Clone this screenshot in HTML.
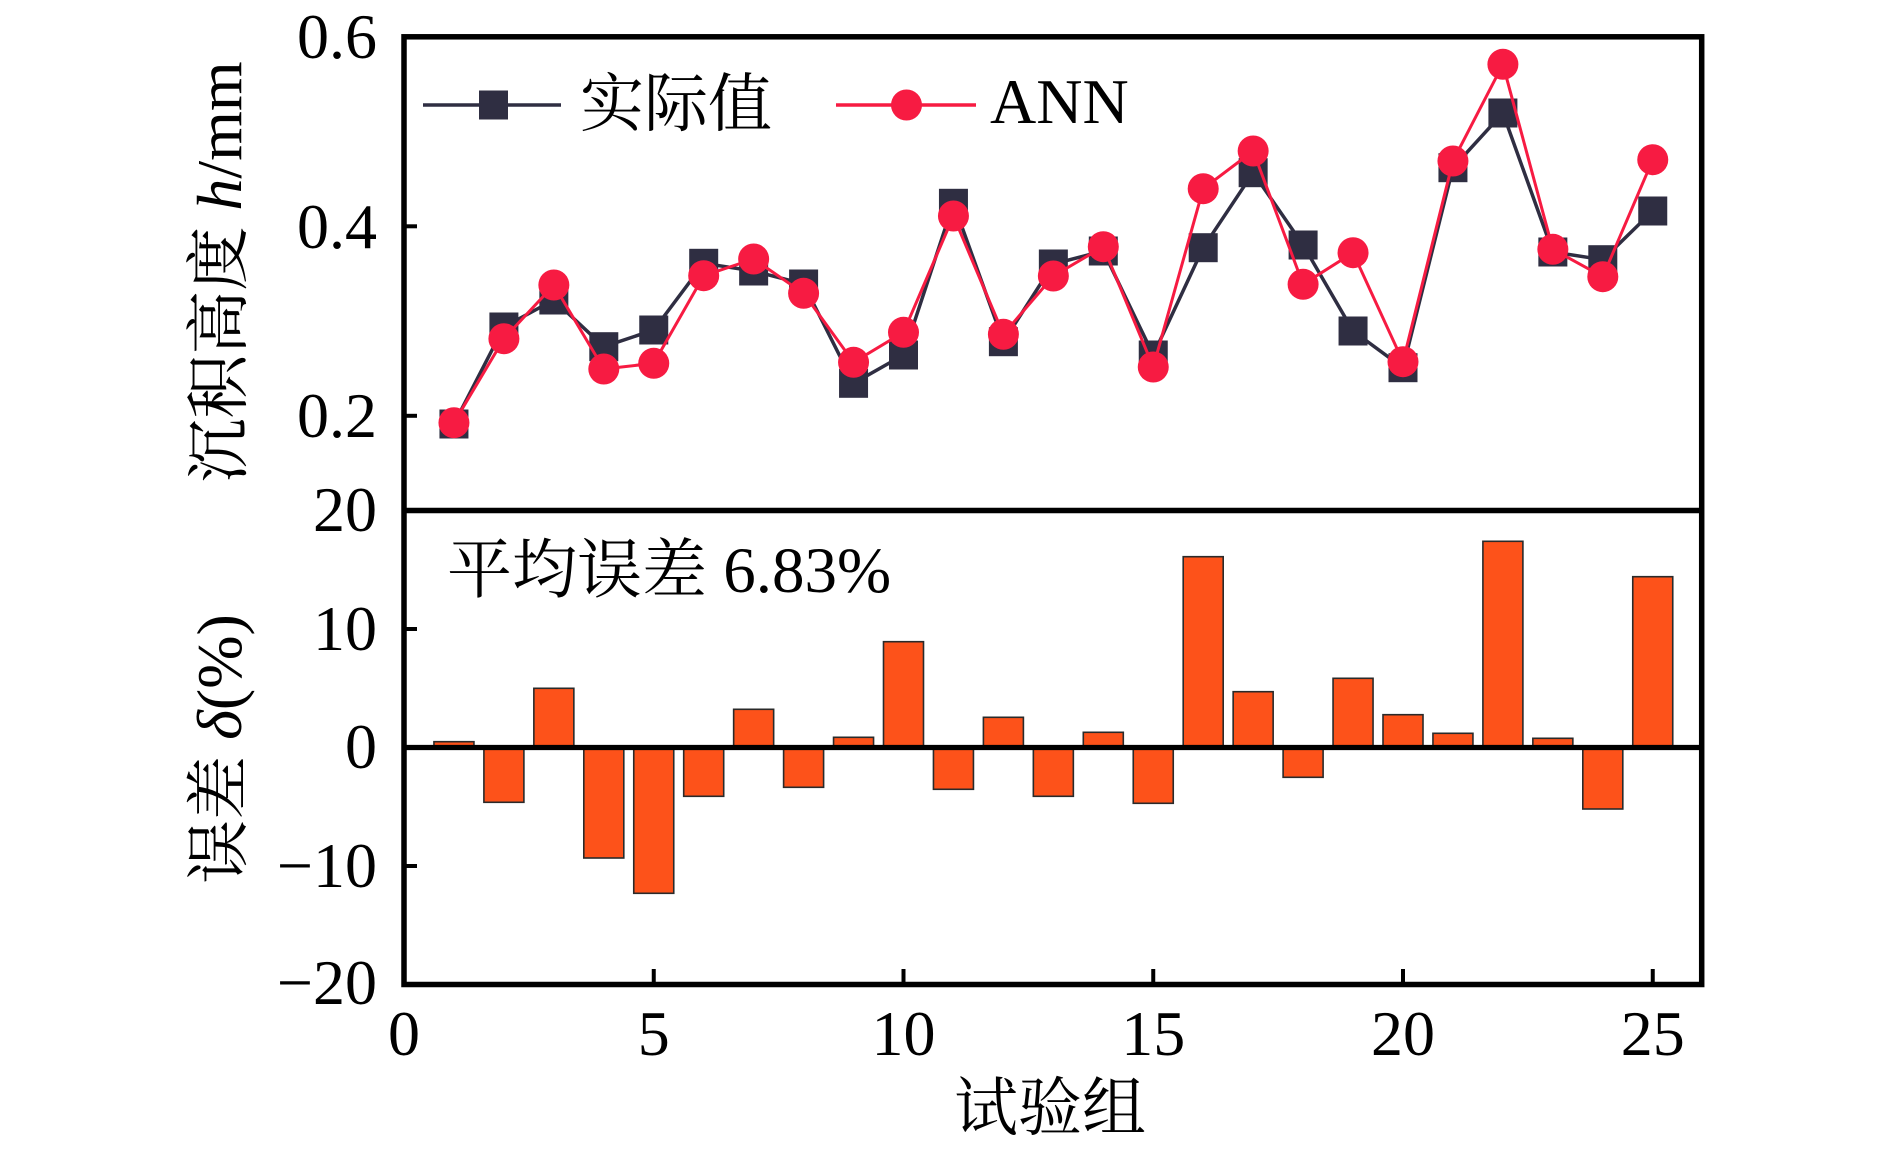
<!DOCTYPE html>
<html><head><meta charset="utf-8"><style>
html,body{margin:0;padding:0;background:#fff;}
svg{display:block;}
text{font-family:"Liberation Serif","Noto Serif CJK SC",serif;fill:#000;}
</style></head><body>
<svg width="1890" height="1150" viewBox="0 0 1890 1150" xmlns="http://www.w3.org/2000/svg">
<rect width="1890" height="1150" fill="#fff"/>

<!-- bars -->
<g fill="#fd521a" stroke="#2a2a2a" stroke-width="1.6">
<rect x="433.95" y="741.7" width="40" height="5.8"/>
<rect x="483.9" y="747.5" width="40" height="54.8"/>
<rect x="533.85" y="688.3" width="40" height="59.2"/>
<rect x="583.8" y="747.5" width="40" height="110.5"/>
<rect x="633.75" y="747.5" width="40" height="145.8"/>
<rect x="683.7" y="747.5" width="40" height="48.8"/>
<rect x="733.65" y="709.3" width="40" height="38.2"/>
<rect x="783.6" y="747.5" width="40" height="39.8"/>
<rect x="833.55" y="737.3" width="40" height="10.2"/>
<rect x="883.5" y="641.7" width="40" height="105.8"/>
<rect x="933.45" y="747.5" width="40" height="41.8"/>
<rect x="983.4" y="717.3" width="40" height="30.2"/>
<rect x="1033.35" y="747.5" width="40" height="48.8"/>
<rect x="1083.3" y="732.3" width="40" height="15.2"/>
<rect x="1133.25" y="747.5" width="40" height="55.8"/>
<rect x="1183.2" y="556.7" width="40" height="190.8"/>
<rect x="1233.15" y="691.7" width="40" height="55.8"/>
<rect x="1283.1" y="747.5" width="40" height="29.8"/>
<rect x="1333.05" y="678.3" width="40" height="69.2"/>
<rect x="1383.0" y="714.7" width="40" height="32.8"/>
<rect x="1432.95" y="733.3" width="40" height="14.2"/>
<rect x="1482.9" y="541.3" width="40" height="206.2"/>
<rect x="1532.85" y="738.3" width="40" height="9.2"/>
<rect x="1582.8" y="747.5" width="40" height="61.5"/>
<rect x="1632.75" y="576.7" width="40" height="170.8"/>
</g>
<line x1="404" y1="747.5" x2="1702" y2="747.5" stroke="#000" stroke-width="5.3"/>

<!-- actual line -->
<polyline fill="none" stroke="#2f2e42" stroke-width="3.5" stroke-linejoin="round" points="453.95,424 503.9,327 553.85,300 603.8,346.7 653.75,330 703.7,263.3 753.65,271 803.6,284 853.55,383.3 903.5,355 953.45,203.3 1003.4,341.7 1053.35,264 1103.3,251 1153.25,355 1203.2,247.7 1253.15,172.7 1303.1,245 1353.05,331 1403.0,367.7 1452.95,167.7 1502.9,113 1552.85,252 1602.8,259.7 1652.75,211"/>
<g fill="#2f2e42">
<rect x="439.45" y="409.5" width="29" height="29"/>
<rect x="489.4" y="312.5" width="29" height="29"/>
<rect x="539.35" y="285.5" width="29" height="29"/>
<rect x="589.3" y="332.2" width="29" height="29"/>
<rect x="639.25" y="315.5" width="29" height="29"/>
<rect x="689.2" y="248.8" width="29" height="29"/>
<rect x="739.15" y="256.5" width="29" height="29"/>
<rect x="789.1" y="269.5" width="29" height="29"/>
<rect x="839.05" y="368.8" width="29" height="29"/>
<rect x="889.0" y="340.5" width="29" height="29"/>
<rect x="938.95" y="188.8" width="29" height="29"/>
<rect x="988.9" y="327.2" width="29" height="29"/>
<rect x="1038.85" y="249.5" width="29" height="29"/>
<rect x="1088.8" y="236.5" width="29" height="29"/>
<rect x="1138.75" y="340.5" width="29" height="29"/>
<rect x="1188.7" y="233.2" width="29" height="29"/>
<rect x="1238.65" y="158.2" width="29" height="29"/>
<rect x="1288.6" y="230.5" width="29" height="29"/>
<rect x="1338.55" y="316.5" width="29" height="29"/>
<rect x="1388.5" y="353.2" width="29" height="29"/>
<rect x="1438.45" y="153.2" width="29" height="29"/>
<rect x="1488.4" y="98.5" width="29" height="29"/>
<rect x="1538.35" y="237.5" width="29" height="29"/>
<rect x="1588.3" y="245.2" width="29" height="29"/>
<rect x="1638.25" y="196.5" width="29" height="29"/>
</g>

<!-- ANN line -->
<polyline fill="none" stroke="#f71b42" stroke-width="3" stroke-linejoin="round" points="453.95,422.7 503.9,338.7 553.85,285 603.8,369 653.75,363.3 703.7,275.7 753.65,259 803.6,293.3 853.55,362.3 903.5,332.3 953.45,216 1003.4,334.3 1053.35,276 1103.3,246.7 1153.25,367 1203.2,188.7 1253.15,151 1303.1,284.3 1353.05,252.7 1403.0,361.7 1452.95,161 1502.9,64.3 1552.85,249.3 1602.8,276.7 1652.75,159.7"/>
<g fill="#f71b42">
<circle cx="453.95" cy="422.7" r="15.5"/>
<circle cx="503.9" cy="338.7" r="15.5"/>
<circle cx="553.85" cy="285" r="15.5"/>
<circle cx="603.8" cy="369" r="15.5"/>
<circle cx="653.75" cy="363.3" r="15.5"/>
<circle cx="703.7" cy="275.7" r="15.5"/>
<circle cx="753.65" cy="259" r="15.5"/>
<circle cx="803.6" cy="293.3" r="15.5"/>
<circle cx="853.55" cy="362.3" r="15.5"/>
<circle cx="903.5" cy="332.3" r="15.5"/>
<circle cx="953.45" cy="216" r="15.5"/>
<circle cx="1003.4" cy="334.3" r="15.5"/>
<circle cx="1053.35" cy="276" r="15.5"/>
<circle cx="1103.3" cy="246.7" r="15.5"/>
<circle cx="1153.25" cy="367" r="15.5"/>
<circle cx="1203.2" cy="188.7" r="15.5"/>
<circle cx="1253.15" cy="151" r="15.5"/>
<circle cx="1303.1" cy="284.3" r="15.5"/>
<circle cx="1353.05" cy="252.7" r="15.5"/>
<circle cx="1403.0" cy="361.7" r="15.5"/>
<circle cx="1452.95" cy="161" r="15.5"/>
<circle cx="1502.9" cy="64.3" r="15.5"/>
<circle cx="1552.85" cy="249.3" r="15.5"/>
<circle cx="1602.8" cy="276.7" r="15.5"/>
<circle cx="1652.75" cy="159.7" r="15.5"/>
</g>

<!-- legend -->
<line x1="423" y1="105" x2="561" y2="105" stroke="#2f2e42" stroke-width="3.5"/>
<rect x="479" y="90.5" width="29" height="29" fill="#2f2e42"/>
<text x="580" y="126" font-size="64">实际值</text>
<line x1="836" y1="105" x2="976" y2="105" stroke="#f71b42" stroke-width="3.5"/>
<circle cx="906.5" cy="105" r="15.5" fill="#f71b42"/>
<text x="990" y="123" font-size="64">ANN</text>

<text x="447" y="592" font-size="65">平均误差 6.83%</text>

<!-- frame & divider -->
<g stroke="#000" stroke-width="5.5" fill="none">
<rect x="404" y="36.8" width="1297.7" height="947.7"/>
<line x1="404" y1="510.5" x2="1701.7" y2="510.5"/>
</g>
<!-- ticks -->
<g stroke="#000" stroke-width="4">
<line x1="404" y1="226.3" x2="417" y2="226.3"/>
<line x1="404" y1="415.8" x2="417" y2="415.8"/>
<line x1="404" y1="629" x2="417" y2="629"/>
<line x1="404" y1="866" x2="417" y2="866"/>
<line x1="653.75" y1="984.5" x2="653.75" y2="969"/>
<line x1="903.5" y1="984.5" x2="903.5" y2="969"/>
<line x1="1153.25" y1="984.5" x2="1153.25" y2="969"/>
<line x1="1403" y1="984.5" x2="1403" y2="969"/>
<line x1="1652.75" y1="984.5" x2="1652.75" y2="969"/>
</g>

<!-- y tick labels -->
<g font-size="64" text-anchor="end">
<text x="377" y="58">0.6</text>
<text x="377" y="248">0.4</text>
<text x="377" y="437">0.2</text>
<text x="377" y="531">20</text>
<text x="377" y="650">10</text>
<text x="377" y="768">0</text>
<text x="377" y="887">−10</text>
<text x="377" y="1004">−20</text>
</g>
<!-- x tick labels -->
<g font-size="64" text-anchor="middle">
<text x="404" y="1055">0</text>
<text x="653.75" y="1055">5</text>
<text x="903.5" y="1055">10</text>
<text x="1153.25" y="1055">15</text>
<text x="1403" y="1055">20</text>
<text x="1652.75" y="1055">25</text>
</g>

<text x="1050" y="1130" font-size="64" text-anchor="middle">试验组</text>

<text transform="translate(241,272) rotate(-90)" font-size="64" text-anchor="middle">沉积高度 <tspan font-style="italic">h</tspan>/mm</text>
<text transform="translate(241,749) rotate(-90)" font-size="64" text-anchor="middle">误差 <tspan font-style="italic">δ</tspan>(%)</text>
</svg>
</body></html>
